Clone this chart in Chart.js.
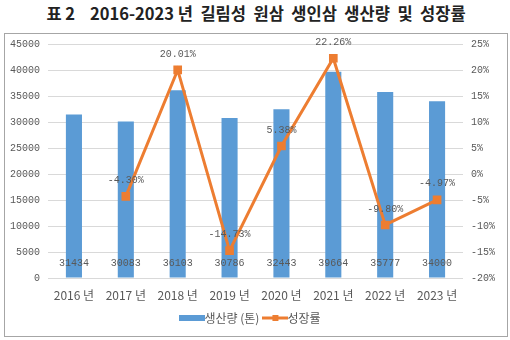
<!DOCTYPE html>
<html><head><meta charset="utf-8">
<script src="https://cdn.jsdelivr.net/npm/chart.js@4"></script>
<style>
html,body{margin:0;padding:0;background:#fff;width:510px;height:340px;overflow:hidden;}
#title{position:absolute;left:0;top:1px;width:512px;text-align:center;font-family:"Noto Sans CJK KR";font-weight:bold;font-size:16.5px;color:#222;white-space:pre;}
#box{position:absolute;left:4px;top:33px;width:502px;height:302px;border:1px solid #a6a6a6;}
canvas{position:absolute;left:0;top:0;}
</style></head>
<body>
<div id="title">표 2    2016-2023 년  길림성  원삼  생인삼  생산량  및  성장률</div>
<div id="box"></div>
<canvas id="c" width="510" height="340"></canvas>
<script>
const categories = ['2016 년','2017 년','2018 년','2019 년','2020 년','2021 년','2022 년','2023 년'];
const production = [31434, 30083, 36103, 30786, 32443, 39664, 35777, 34000];
const growth = [null, -4.30, 20.01, -14.73, 5.38, 22.26, -9.80, -4.97];
const leftTicks = [0, 45000, 5000];
const rightTicks = [-20, 25, 5];

const BLUE = '#5B9BD5', ORANGE = '#ED7D31', GRAY = '#595959';
const monoFont = {family: '"Liberation Mono", monospace', size: 10};

function barIcon(){const c=document.createElement('canvas');c.width=26;c.height=6;const x=c.getContext('2d');x.fillStyle=BLUE;x.fillRect(0,0,26,6);return c;}
function lineIcon(){const c=document.createElement('canvas');c.width=26;c.height=8;const x=c.getContext('2d');x.strokeStyle=ORANGE;x.lineWidth=3;x.beginPath();x.moveTo(0,4);x.lineTo(26,4);x.stroke();x.fillStyle=ORANGE;x.fillRect(10,1,6,6);return c;}

const labelPlugin = {
  id:'valueLabels',
  afterDatasetsDraw(chart){
    const ctx = chart.ctx;
    ctx.save();
    ctx.font = '10px "Liberation Mono", monospace';
    ctx.fillStyle = GRAY;
    ctx.textAlign = 'center';
    ctx.textBaseline = 'middle';
    const bm = chart.getDatasetMeta(0);
    const yb = chart.scales.y;
    bm.data.forEach((el,i)=>{
      ctx.fillText(String(production[i]), el.x, yb.getPixelForValue(0) - 15);
    });
    const lm = chart.getDatasetMeta(1);
    lm.data.forEach((el,i)=>{
      if (growth[i]===null) return;
      ctx.fillText(growth[i].toFixed(2)+'%', el.x, el.y - 16);
    });
    ctx.restore();
  }
};

new Chart(document.getElementById('c'), {
  data:{
    labels: categories,
    datasets:[
      {type:'bar', label:'생산량 (톤)', data: production, backgroundColor: BLUE, yAxisID:'y', barPercentage:0.31, categoryPercentage:1, order:2},
      {type:'line', label:'성장률', data: growth, borderColor: ORANGE, backgroundColor: ORANGE, borderWidth:3, pointStyle:'rect', pointRadius:4, pointHoverRadius:4, yAxisID:'y1', spanGaps:false, order:1}
    ]
  },
  options:{
    responsive:false, animation:false,
    layout:{padding:{left:4, right:7, top:44, bottom:6}},
    plugins:{
      legend:{position:'bottom', labels:{usePointStyle:true, color:GRAY, font:{family:'"Noto Sans CJK KR"', size:12}, padding:10,
        generateLabels(chart){
          return [
            {text:'생산량 (톤)', pointStyle: barIcon(), fillStyle:BLUE, strokeStyle:BLUE, lineWidth:0, datasetIndex:0, fontColor:GRAY},
            {text:'성장률', pointStyle: lineIcon(), fillStyle:ORANGE, strokeStyle:ORANGE, lineWidth:0, datasetIndex:1, fontColor:GRAY}
          ];
        }}},
      tooltip:{enabled:false}
    },
    scales:{
      x:{grid:{display:false}, border:{display:false}, ticks:{color:GRAY, font:{family:'"Noto Sans CJK KR"', size:12}, padding:2, maxRotation:0, minRotation:0, autoSkip:false},
        afterFit(s){s.height=24;}},
      y:{position:'left', min:leftTicks[0], max:leftTicks[1], ticks:{stepSize:leftTicks[2], color:GRAY, font:monoFont, padding:8, callback:v=>String(v)},
        grid:{color:'#d9d9d9', drawTicks:false}, border:{display:false}, afterFit(s){s.width=44;}},
      y1:{position:'right', min:rightTicks[0], max:rightTicks[1], ticks:{stepSize:rightTicks[2], color:GRAY, font:monoFont, padding:8, callback:v=>v+'%'},
        grid:{display:false, drawTicks:false}, border:{display:false}, afterFit(s){s.width=40;}}
    }
  },
  plugins:[labelPlugin]
});
</script>
</body></html>
